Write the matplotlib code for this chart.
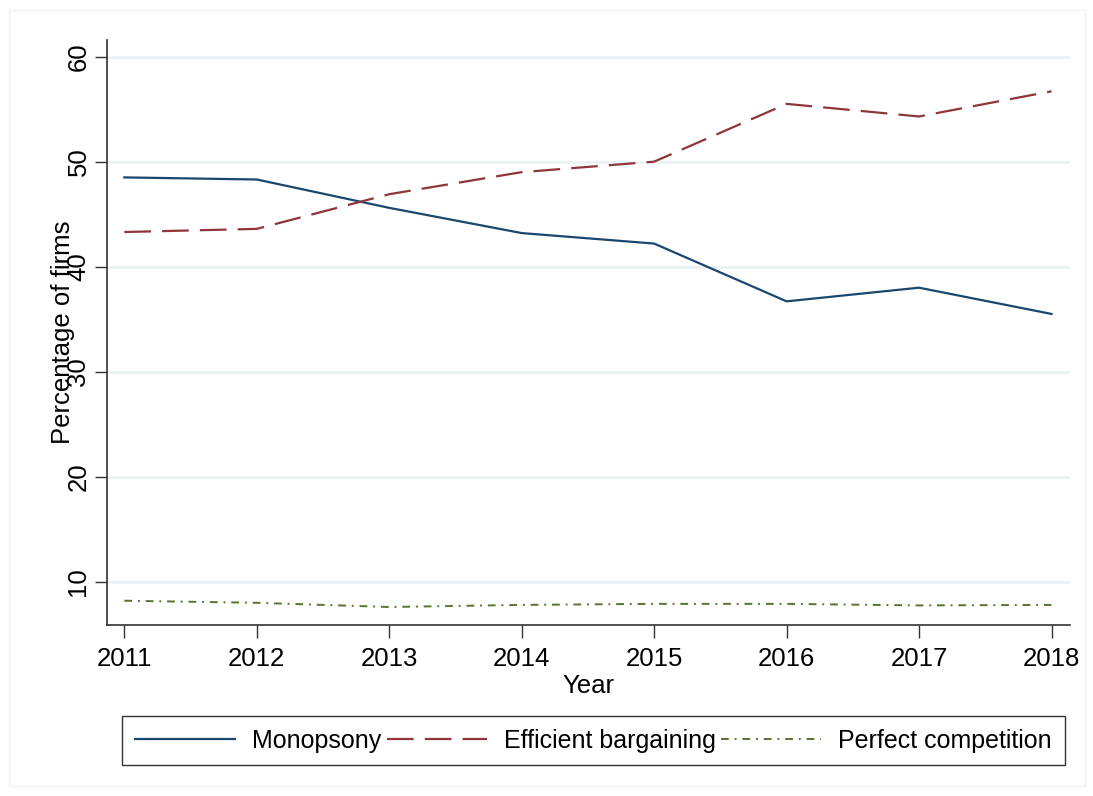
import matplotlib
matplotlib.use("Agg")
import matplotlib.pyplot as plt
from matplotlib.patches import Rectangle

# data
years = [2011, 2012, 2013, 2014, 2015, 2016, 2017, 2018]
monopsony = [48.5, 48.3, 45.6, 43.2, 42.2, 36.7, 38.0, 35.5]
efficient = [43.3, 43.6, 46.9, 49.0, 50.0, 55.5, 54.3, 56.7]
perfect = [8.2, 8.0, 7.6, 7.8, 7.9, 7.9, 7.75, 7.8]
yticks = [10, 20, 30, 40, 50, 60]

plt.rcParams['font.family'] = ['Liberation Sans', 'DejaVu Sans']

fig = plt.figure(figsize=(10.93, 7.96), dpi=100)
fig.patches.append(Rectangle((0.008, 0.013), 0.985, 0.975, transform=fig.transFigure,
                             fill=False, edgecolor='#f0f0f0', lw=1))
ax = fig.add_axes([0.098, 0.215, 0.881, 0.735])

for yv in yticks:
    ax.axhline(yv, color='#eaf2f3', lw=2, zorder=0)

l1, = ax.plot(years, monopsony, color='#1a476f', lw=1.6, label='Monopsony')
l2, = ax.plot(years, efficient, color='#90353b', lw=1.6, dashes=(12, 5), label='Efficient bargaining')
l3, = ax.plot(years, perfect, color='#55752f', lw=1.4, dashes=(4, 3, 1, 3), label='Perfect competition')

ax.set_xlim(2010.87, 2018.14)
ax.set_ylim(5.9, 61.6)
ax.set_xticks(years)
ax.set_yticks(yticks)
ax.tick_params(axis='x', labelsize=18.5, length=9, width=1, color='#333333', pad=7)
ax.tick_params(axis='y', labelsize=18.5, length=9, width=1, color='#333333', pad=3)
for lab in ax.get_yticklabels():
    lab.set_rotation(90)
    lab.set_va('center')

for s in ['top', 'right']:
    ax.spines[s].set_visible(False)
for s in ['left', 'bottom']:
    ax.spines[s].set_color('#333333')
    ax.spines[s].set_linewidth(1.2)

ax.set_ylabel('Percentage of firms', fontsize=18.5, labelpad=-6)
ax.set_xlabel('Year', fontsize=18.5, labelpad=2)

leg = fig.legend(handles=[l1, l2, l3], loc='center', bbox_to_anchor=(0.543, 0.0695),
                 ncol=3, fontsize=18, frameon=True, fancybox=False, edgecolor='black',
                 handlelength=4.0, handletextpad=0.7, columnspacing=0.2,
                 borderpad=0.5)
leg.get_frame().set_linewidth(1.0)

fig.savefig('out.png', dpi=100)
